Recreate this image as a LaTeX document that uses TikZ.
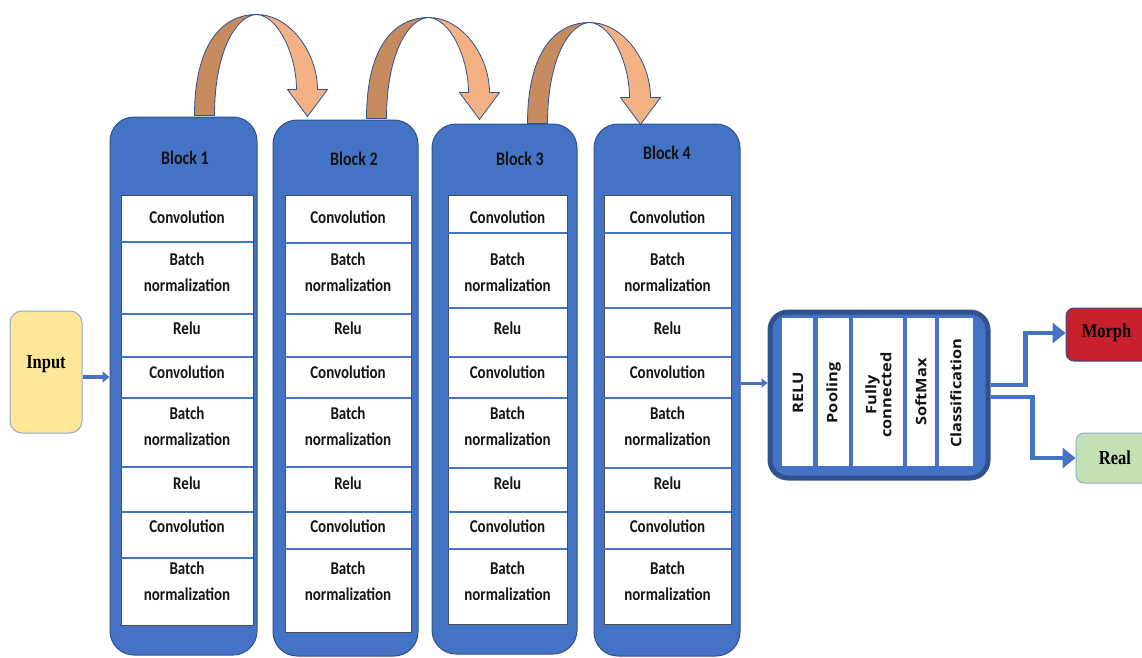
\documentclass[tikz,border=0pt]{standalone}
\usepackage{fontspec}
\setmainfont{Carlito}
\newfontfamily\osans{Open Sans}
\newfontfamily\tnr{Liberation Serif}
\usetikzlibrary{arrows.meta,calc,fit}
\definecolor{blu}{HTML}{4472C4}
\definecolor{dblu}{HTML}{2F528F}
\definecolor{arcdark}{HTML}{C68B5F}
\definecolor{arclight}{HTML}{F4B183}
\definecolor{inyel}{HTML}{FFE699}
\definecolor{inedge}{HTML}{8FAACC}
\definecolor{morphred}{HTML}{C8202C}
\definecolor{realgreen}{HTML}{C5E0B4}
\definecolor{txt}{HTML}{141414}
\tikzset{
  blk/.style={draw=dblu, line width=1pt, fill=blu, rounded corners=24pt, inner sep=0pt},
  cellcol/.style={fill=white, draw=black!70, line width=0.6pt},
  rowline/.style={draw=blu, line width=1.6pt},
  celltxt/.style={text=txt, font=\fontsize{15}{22}\selectfont\bfseries, align=center, inner sep=0pt, yscale=1.2, transform shape},
  titletxt/.style={text=txt, font=\fontsize{16}{18}\selectfont\bfseries, inner sep=0pt, yscale=1.2, transform shape},
  clstxt/.style={text=txt, font=\osans\fontsize{14.5}{15}\selectfont\bfseries, rotate=90, xscale=1.13, transform shape, align=center, inner sep=0pt},
  serift/.style={text=black, font=\tnr\fontsize{16.5}{18}\selectfont\bfseries, inner sep=0pt, yscale=1.2, transform shape},
  arcd/.style={fill=arcdark, draw=dblu, line width=0.8pt, line join=round},
  arcl/.style={fill=arclight, draw=dblu, line width=0.8pt, line join=round},
  smallarr/.style={draw=blu, line width=3.5pt, -{Triangle[length=7pt,width=11pt]}},
  outarr/.style={draw=blu, line width=4.5pt, -{Triangle[length=13pt,width=20pt]}},
}
\newcommand\curvarrow[1]{%
\begin{scope}[shift={#1}]
\filldraw[arcd] (0,0) .. controls (0,-72) and (28,-101) .. (62,-101) .. controls (42,-100) and (20,-65) .. (20,0) -- cycle;
\filldraw[arcl] (62,-101) .. controls (96,-101) and (123,-62) .. (123,-26) -- (133,-26) -- (113,1) -- (93,-26) -- (102,-26) .. controls (102,-60) and (84,-100) .. (62,-101) -- cycle;
\end{scope}}
\begin{document}
\begin{tikzpicture}[x=1pt,y=-1pt]
\useasboundingbox (0,0) rectangle (1142,657);
\clip (0,0) rectangle (1142,657);
\fill[white] (0,0) rectangle (1142,657);

% blocks
\foreach \n/\xa/\xb/\ya/\yb/\wa/\wb/\wbot/\lines/\tx/\ty in {
 1/110/257/117/655/121/253/625/{242,314,357,398,467,512,558}/185/158,
 2/273/418/120/656/285/411/632/{243,314,357,398,467,512,549}/354/159,
 3/432/577/124/654/448/567/624/{233,308,357,398,468,512,549}/520/159,
 4/594/740/124/656/604/731/624/{233,308,357,398,468,512,549}/667/153}{
  \node[blk, fit={(\xa,\ya) (\xb,\yb)}] (b\n) {};
  \node[titletxt] (t\n) at (\tx,\ty) {Block \n};
  \filldraw[cellcol] (\wa,195) rectangle (\wb,\wbot);
  \foreach \l in \lines { \draw[rowline] (\wa,\l) -- (\wb,\l); }
  \pgfmathsetmacro\cx{(\wa+\wb)/2}
  \node[celltxt] (c\n a) at (\cx,217) {Convolution};
  \node[celltxt] (c\n b) at (\cx,272) {Batch\\normalization};
  \node[celltxt] (c\n c) at (\cx,328) {Relu};
  \node[celltxt] (c\n d) at (\cx,372) {Convolution};
  \node[celltxt] (c\n e) at (\cx,426) {Batch\\normalization};
  \node[celltxt] (c\n f) at (\cx,483) {Relu};
  \node[celltxt] (c\n g) at (\cx,526) {Convolution};
  \node[celltxt] (c\n h) at (\cx,581) {Batch\\normalization};
}

% curved arrows between blocks
\curvarrow{($(b1.north west)+(85,-1)$)}
\curvarrow{($(b2.north west)+(94,-1)$)}
\curvarrow{($(b3.north west)+(96,0)$)}

% input
\node[draw=inedge, line width=1pt, fill=inyel, rounded corners=12pt, fit={(10,311) (82,433)}, inner sep=0pt] (inp) {};
\node[serift] (inpt) at (46,364) {Input};
\draw[smallarr] ([yshift=-5pt]inp.east) -- ([yshift=-5pt]inp.east -| b1.west);

% classifier
\node[draw=dblu, line width=5pt, fill=blu, rounded corners=18pt, fit={(770,312) (988,478)}, inner sep=0pt] (cls) {};
\foreach \xa/\xb in {782/813, 818/849, 853/903, 907/935, 939/973}{
  \fill[white] (\xa,318) rectangle (\xb,466);
}
\node[clstxt] (k1) at (798,393) {RELU};
\node[clstxt] (k2) at (833.5,393) {Pooling};
\node[clstxt] (k3) at (878.5,395) {Fully\\connected};
\node[clstxt] (k4) at (921,392) {SoftMax};
\node[clstxt] (k5) at (956,393) {Classification};
\coordinate (cin) at ($(cls.west)+(0,-12)$);
\draw[draw=blu, line width=3pt, -{Triangle[length=6pt,width=9pt]}] (cin -| b4.east) -- (cin);

% outputs
\node[draw=dblu, line width=1pt, fill=morphred, rounded corners=8pt, fit={(1066,308) (1180,361)}, inner sep=0pt] (morph) {};
\node[serift] (morpht) at (1106.5,333) {Morph};
\node[draw=inedge, line width=1pt, fill=realgreen, rounded corners=8pt, fit={(1076,433) (1180,483)}, inner sep=0pt] (real) {};
\node[serift] (realt) at (1115,458) {Real};
\coordinate (o1) at ($(cls.east)+(0,-10)$);
\coordinate (o2) at ($(cls.east)+(0,2)$);
\draw[outarr] (o1) -- ++(35,0) |- (morph.west |- morpht);
\draw[outarr] (o2) -- ++(42,0) |- (real.west);
\end{tikzpicture}
\end{document}
